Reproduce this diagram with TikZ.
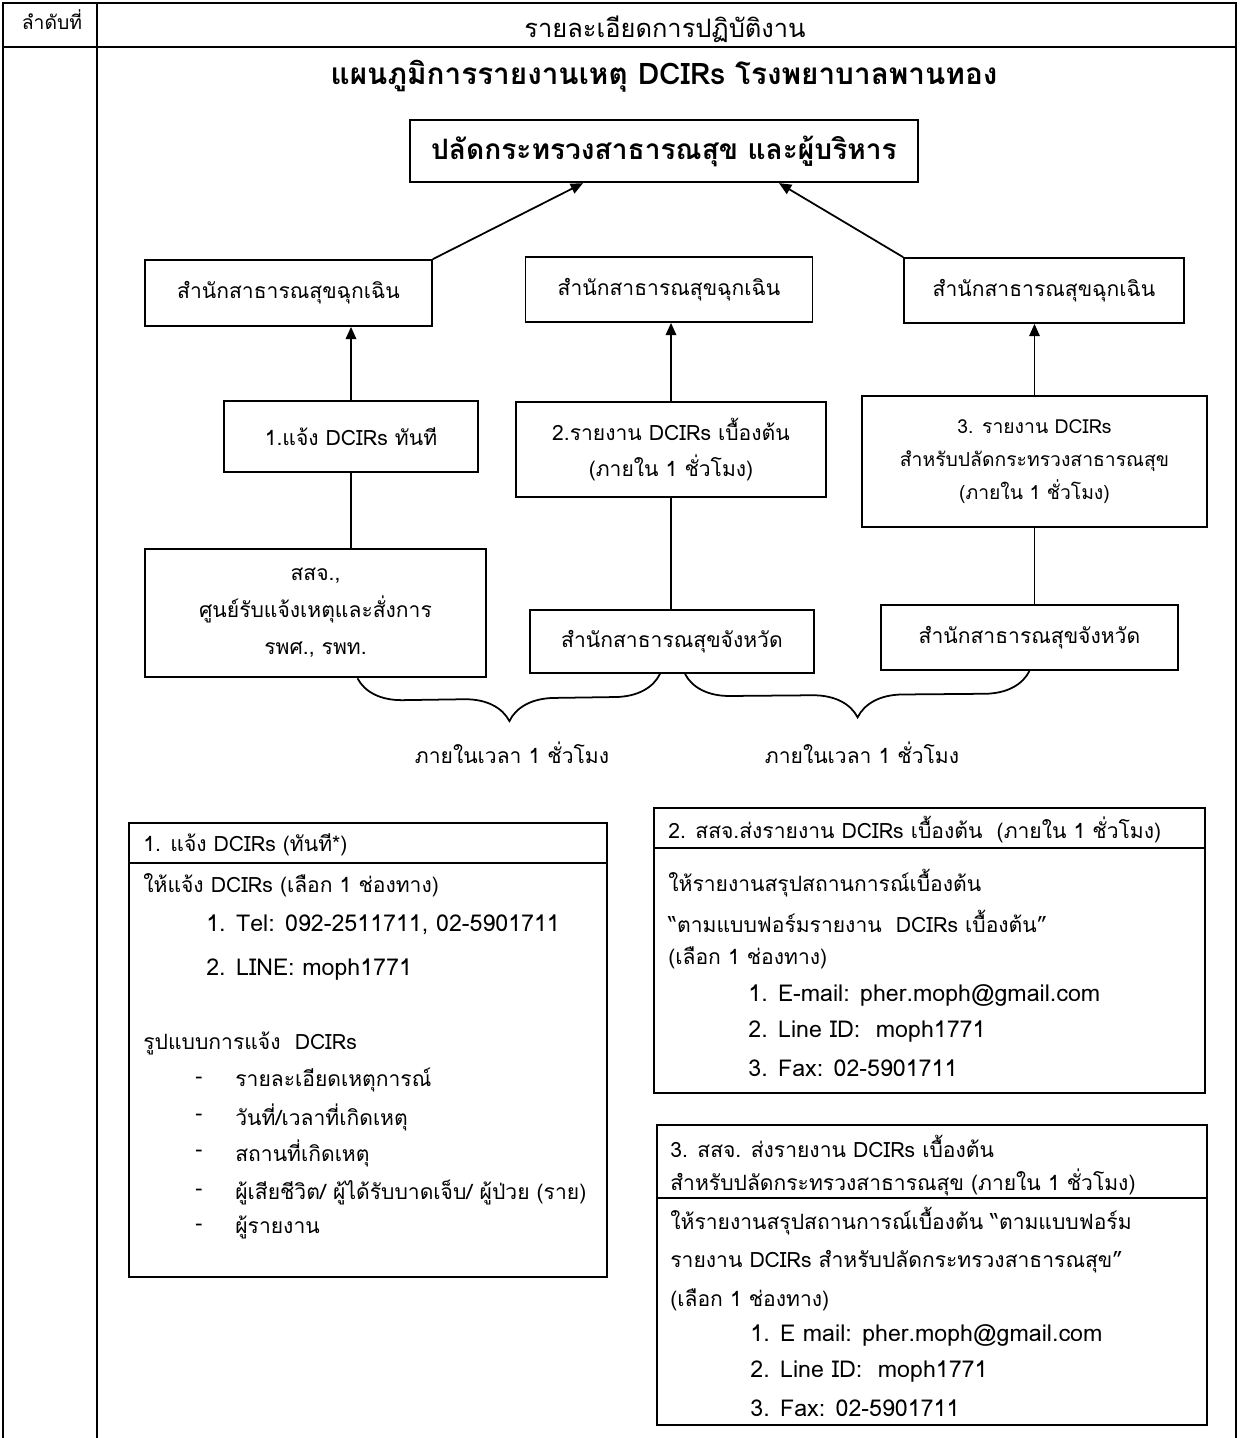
\documentclass[tikz,border=0pt]{standalone}
\usepackage{fontspec}
\newfontfamily\thaifont[Script=Thai]{Loma}
\usetikzlibrary{arrows.meta,calc,decorations.pathreplacing}

\tikzset{
  box/.style={draw, line width=1pt, align=center, inner sep=0pt,
    font={\thaifont\fontsize{12}{21}\selectfont}},
  heavybox/.style={box, line width=1.5pt},
  arr/.style={line width=1pt, -{Triangle[length=7pt,width=6pt]}},
  txt/.style={inner sep=0pt, anchor=west, font={\thaifont\fontsize{12}{14}\selectfont}},
  latin/.style={txt, font={\thaifont\fontsize{13.2}{15}\selectfont}},
  grid line/.style={line width=0.8pt},
}

\begin{document}
\begin{tikzpicture}[x=0.02cm, y=-0.02cm]
\useasboundingbox (0,0) rectangle (1240,1438);

% form table
\draw[grid line] (3,1438) -- (3,3) -- (1236,3) -- (1236,1438);
\draw[grid line] (3,47) -- (1236,47);
\draw[grid line] (97,3) -- (97,1438);
\node[inner sep=0pt, font={\thaifont\fontsize{11}{12}\selectfont}] (colno) at (52,20) {ลำดับที่};
\node[inner sep=0pt, font={\thaifont\fontsize{14.5}{16}\selectfont}] (coldetail) at (665,29) {รายละเอียดการปฏิบัติงาน};

% chart
\node[inner sep=0pt, font={\thaifont\bfseries\fontsize{16.9}{20}\selectfont}] (title) at (664,76) {แผนภูมิการรายงานเหตุ DCIRs โรงพยาบาลพานทอง};

\node[box, font={\thaifont\bfseries\fontsize{16}{18}\selectfont}, line width=1.3pt,
  minimum width=10.16cm, minimum height=1.24cm] (chief) at (664,151) {ปลัดกระทรวงสาธารณสุข และผู้บริหาร};

\node[box, minimum width=5.74cm, minimum height=1.32cm] (emL) at (288.5,293) {สำนักสาธารณสุขฉุกเฉิน};
\node[box, minimum width=5.74cm, minimum height=1.30cm] (emM) at (669,289.5) {สำนักสาธารณสุขฉุกเฉิน};
\node[box, minimum width=5.60cm, minimum height=1.30cm] (emR) at (1044,290.5) {สำนักสาธารณสุขฉุกเฉิน};

\node[box, minimum width=5.08cm, minimum height=1.42cm] (stepA) at (351,436.5) {1.แจ้ง DCIRs ทันที};
\node[box, minimum width=6.20cm, minimum height=1.90cm] (stepB) at (671,449.5) {2.รายงาน DCIRs เบื้องต้น\\(ภายใน 1 ชั่วโมง)};
\node[heavybox, minimum width=6.90cm, minimum height=2.62cm, font={\thaifont\fontsize{11}{19}\selectfont}] (stepC) at (1034.5,461.5) {3. รายงาน DCIRs\\สำหรับปลัดกระทรวงสาธารณสุข\\(ภายใน 1 ชั่วโมง)};

\node[heavybox, minimum width=6.82cm, minimum height=2.56cm] (srcA) at (315.5,613) {สสจ.,\\ศูนย์รับแจ้งเหตุและสั่งการ\\รพศ., รพท.};
\node[box, minimum width=5.68cm, minimum height=1.26cm] (srcB) at (672,641.5) {สำนักสาธารณสุขจังหวัด};
\node[box, minimum width=5.94cm, minimum height=1.30cm] (srcC) at (1029.5,637.5) {สำนักสาธารณสุขจังหวัด};

\draw[arr] (emL.north east) -- ($(chief.south)+(-81,0)$);
\draw[arr] (emR.north west) -- ($(chief.south)+(115,0)$);
\draw[arr] (stepA.north) -- (stepA.north |- emL.south);
\draw[arr] (stepB.north) -- (stepB.north |- emM.south);
\draw[arr] (stepC.north) -- (stepC.north |- emR.south);
\draw[line width=1pt] (stepA.south) -- (stepA.south |- srcA.north);
\draw[line width=1pt] (stepB.south) -- (stepB.south |- srcB.north);
\draw[line width=1pt] (stepC.south) -- (stepC.south |- srcC.north);

% one hour braces
\draw[line width=1pt, decorate, decoration={brace, mirror, amplitude=0.9cm}]
  ($(srcA.south)+(42,0)$) -- ($(srcB.south)+(-12,0)$);
\draw[line width=1pt, decorate, decoration={brace, mirror, amplitude=0.9cm}]
  ($(srcB.south)+(13,0)$) -- (srcC.south);
\node[inner sep=0pt, font={\thaifont\fontsize{12}{14}\selectfont}] (hourL) at (512,753) {ภายในเวลา 1 ชั่วโมง};
\node[inner sep=0pt, font={\thaifont\fontsize{12}{14}\selectfont}] (hourR) at (862,753) {ภายในเวลา 1 ชั่วโมง};

% notice box
\draw[line width=1pt] (129,823) rectangle (607,1277);
\draw[line width=1pt] (129,863) -- (607,863);
\node[txt] (nA0) at (143,845) {1. แจ้ง DCIRs (ทันที*)};
\node[txt] (nA1) at (143,885) {ให้แจ้ง DCIRs (เลือก 1 ช่องทาง)};
\node[latin] (nA2) at (206,925) {1. Tel: 092-2511711, 02-5901711};
\node[latin] (nA3) at (206,970) {2. LINE: moph1771};
\node[txt] (nA4) at (143,1043) {รูปแบบการแจ้ง~~DCIRs};
\node[txt] (dA1) at (195,1080) {-};
\node[txt] (dA2) at (195,1117) {-};
\node[txt] (dA3) at (195,1153) {-};
\node[txt] (dA4) at (195,1192) {-};
\node[txt] (dA5) at (195,1227) {-};
\node[txt] (nA5) at (235,1080) {รายละเอียดเหตุการณ์};
\node[txt] (nA6) at (235,1117) {วันที่/เวลาที่เกิดเหตุ};
\node[txt] (nA7) at (235,1153) {สถานที่เกิดเหตุ};
\node[txt] (nA8) at (235,1192) {ผู้เสียชีวิต/ ผู้ได้รับบาดเจ็บ/ ผู้ป่วย (ราย)};
\node[txt] (nA9) at (235,1227) {ผู้รายงาน};

% first report box
\draw[line width=1pt] (654,808) rectangle (1205,1093);
\draw[line width=1pt] (654,848) -- (1205,848);
\node[txt] (nB0) at (668,830) {2. สสจ.ส่งรายงาน DCIRs เบื้องต้น~~(ภายใน 1 ชั่วโมง)};
\node[txt] (nB1) at (668,883) {ให้รายงานสรุปสถานการณ์เบื้องต้น};
\node[txt] (nB2) at (668,921) {“ตามแบบฟอร์มรายงาน~~DCIRs เบื้องต้น”};
\node[txt] (nB3) at (668,958) {(เลือก 1 ช่องทาง)};
\node[latin] (nB4) at (748,995) {1. E-mail: pher.moph@gmail.com};
\node[latin] (nB5) at (748,1032) {2. Line ID:~~moph1771};
\node[latin] (nB6) at (748,1068) {3. Fax: 02-5901711};

% report box for the permanent secretary
\draw[line width=1pt] (657,1125) rectangle (1207,1425);
\draw[line width=1pt] (657,1198) -- (1207,1198);
\node[txt] (nC0) at (670,1146) {3. สสจ. ส่งรายงาน DCIRs เบื้องต้น};
\node[txt] (nC1) at (670,1182) {สำหรับปลัดกระทรวงสาธารณสุข (ภายใน 1 ชั่วโมง)};
\node[txt] (nC2) at (670,1221) {ให้รายงานสรุปสถานการณ์เบื้องต้น “ตามแบบฟอร์ม};
\node[txt] (nC3) at (670,1262) {รายงาน DCIRs สำหรับปลัดกระทรวงสาธารณสุข”};
\node[txt] (nC4) at (670,1300) {(เลือก 1 ช่องทาง)};
\node[latin] (nC5) at (750,1335) {1. E mail: pher.moph@gmail.com};
\node[latin] (nC6) at (750,1372) {2. Line ID:~~moph1771};
\node[latin] (nC7) at (750,1408) {3. Fax: 02-5901711};
\end{tikzpicture}
\end{document}
